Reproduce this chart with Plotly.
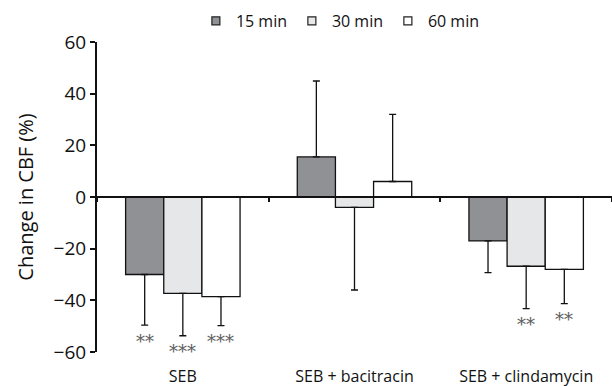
import plotly.graph_objects as go

categories = ["SEB", "SEB + bacitracin", "SEB + clindamycin"]
series_names = ["15 min", "30 min", "60 min"]
mean_15 = [-30, 15.5, -17]
mean_30 = [-37.3, -4, -26.8]
mean_60 = [-38.6, 6, -28]
err_15 = [19.6, 29.4, 12.3]
err_30 = [16.4, 32, 16.4]
err_60 = [11.2, 26, 13.3]
sig_15 = ["**", "", ""]
sig_30 = ["***", "", "**"]
sig_60 = ["***", "", "**"]
y_ticks = [-60, -40, -20, 0, 20, 40, 60]

colors = ["#909195", "#e6e7e8", "#ffffff"]
FONT = "Open Sans"

means = [mean_15, mean_30, mean_60]
errs = [err_15, err_30, err_60]
sigs = [sig_15, sig_30, sig_60]

fig = go.Figure()
for name, m, e, c in zip(series_names, means, errs, colors):
    up = [ei if mi >= 0 else 0 for mi, ei in zip(m, e)]
    down = [ei if mi < 0 else 0 for mi, ei in zip(m, e)]
    fig.add_trace(go.Bar(
        x=categories, y=m, name=name, showlegend=False,
        marker=dict(color=c, line=dict(color="#111111", width=1.3)),
        error_y=dict(type="data", symmetric=False, array=up, arrayminus=down,
                     color="#111111", thickness=1.3, width=3.5),
    ))
    # legend entry
    fig.add_trace(go.Scatter(
        x=[None], y=[None], mode="markers", name=name, showlegend=True,
        marker=dict(symbol="square", size=8, color=c, line=dict(color="#222222", width=1.2)),
    ))

# invisible trace to carry the zero-axis with category boundary ticks
fig.add_trace(go.Scatter(x=categories, y=[None] * 3, xaxis="x2", showlegend=False,
                         hoverinfo="skip", mode="markers"))

bw = (1 - 1 / 3) / 3
for k, (m, e, s) in enumerate(zip(means, errs, sigs)):
    for i, (mi, ei, si) in enumerate(zip(m, e, s)):
        if not si:
            continue
        fig.add_annotation(
            x=i + (k - 1) * bw, y=mi - ei, xref="x", yref="y",
            text=si, showarrow=False, yanchor="middle", yshift=-16,
            font=dict(family="DejaVu Serif", size=18, color="#606060"),
        )

fig.update_layout(
    width=612, height=386,
    margin=dict(l=97, r=0, t=42, b=34, autoexpand=False),
    paper_bgcolor="white", plot_bgcolor="white",
    barmode="group", bargap=1 / 3, bargroupgap=0,
    font=dict(family=FONT, color="#111111"),
    showlegend=True,
    legend=dict(orientation="h", x=0.192, xanchor="left", y=1.068, yanchor="middle",
                font=dict(size=16, family=FONT), entrywidth=51,
                itemsizing="trace", bgcolor="rgba(0,0,0,0)"),
    xaxis=dict(type="category", categoryarray=categories, range=[-0.5, 2.5],
               showline=False, showgrid=False, zeroline=False,
               ticks="outside", ticklen=10, tickcolor="rgba(0,0,0,0)",
               tickfont=dict(size=16, family=FONT)),
    xaxis2=dict(type="category", categoryarray=categories, range=[-0.5, 2.5],
                overlaying="x", anchor="free", position=0.5, side="bottom",
                showline=True, linecolor="#111111", linewidth=2,
                ticks="outside", ticklen=4, tickwidth=1.5, tickcolor="#111111",
                tickson="boundaries", showticklabels=False, showgrid=False, zeroline=False),
    yaxis=dict(range=[-60, 60], tickvals=y_ticks, showgrid=False, zeroline=False,
               showline=True, linecolor="#111111", linewidth=2,
               ticks="outside", ticklen=5, tickwidth=2, tickcolor="#111111",
               tickfont=dict(size=19, family=FONT),
               title=dict(text="Change in CBF (%)", font=dict(size=20, family=FONT), standoff=15)),
)

fig.write_html("out.html", config={"displayModeBar": False},
               post_script="document.body.style.margin='0';document.body.style.overflow='hidden';")
